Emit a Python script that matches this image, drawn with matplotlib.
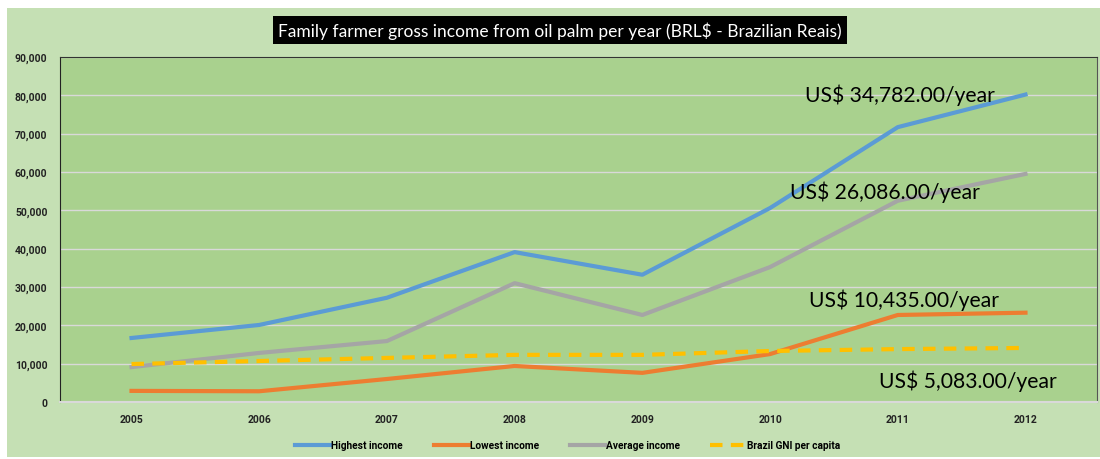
import matplotlib

matplotlib.use("Agg")
import matplotlib.pyplot as plt
from matplotlib.patches import Rectangle

years = ["2005", "2006", "2007", "2008", "2009", "2010", "2011", "2012"]
highest = [16700, 20100, 27200, 39100, 33200, 50600, 71700, 80200]
lowest = [2900, 2800, 6000, 9400, 7600, 12500, 22700, 23300]
average = [9100, 12800, 15900, 31000, 22700, 35200, 52500, 59500]
gni = [9900, 10700, 11500, 12300, 12300, 13300, 13800, 14100]

series_names = ["Highest income", "Lowest income", "Average income", "Brazil GNI per capita"]
notes = ["US$ 34,782.00/year", "US$ 26,086.00/year", "US$ 10,435.00/year", "US$ 5,083.00/year"]
title = "Family farmer gross income from oil palm per year (BRL$ - Brazilian Reais)"

fig = plt.figure(figsize=(11, 4.6), dpi=100)
fig.patch.set_facecolor("white")
# fondo verde del gráfico (estilo Excel)
fig.add_artist(Rectangle((7 / 1100, 2 / 460), 1093 / 1100, 449 / 460,
                         transform=fig.transFigure, facecolor="#C5E0B4",
                         edgecolor="none", zorder=0))

ax = fig.add_axes([60 / 1100, 57 / 460, 1037 / 1100, 345 / 460])
ax.set_facecolor("#A9D18E")
x = list(range(len(years)))

ax.plot(x, highest, color="#5B9BD5", lw=3, label=series_names[0], zorder=3)
ax.plot(x, lowest, color="#ED7D31", lw=3, label=series_names[1], zorder=3)
ax.plot(x, average, color="#A5A5A5", lw=3, label=series_names[2], zorder=3)
ax.plot(x, gni, color="#FFC000", lw=3, ls=(0, (3, 2)), label=series_names[3], zorder=3)

ax.set_xlim(-0.56, 7.56)
ax.set_ylim(0, 90000)
ax.set_yticks(range(0, 90001, 10000))
ax.set_yticklabels([f"{v:,}" for v in range(0, 90001, 10000)])
ax.set_xticks(x)
ax.set_xticklabels(years)
ax.tick_params(length=0, labelsize=7.5)
ax.tick_params(axis="y", pad=9)
ax.tick_params(axis="x", pad=9)
for lab in ax.get_xticklabels() + ax.get_yticklabels():
    lab.set_fontweight("bold")
    lab.set_family("Roboto")
    lab.set_color("#222222")
ax.grid(True, axis="y", color="#D9D9D9", lw=1)
ax.set_axisbelow(True)
ax.spines["left"].set_color("#222222")
ax.spines["top"].set_color("#333333")
ax.spines["right"].set_color("#555555")
ax.spines["bottom"].set_color("#D9D9D9")
ax.spines["bottom"].set_linewidth(1.5)

note_font = dict(family="Lato", fontsize=15.2, color="black", ha="center", va="center", zorder=4)
ax.text(6.02, 80200, notes[0], **note_font)
ax.text(5.9, 55000, notes[1], **note_font)
ax.text(6.05, 26800, notes[2], **note_font)
ax.text(6.55, 5800, notes[3], **note_font)

fig.text(0.509, 0.932, title, ha="center", va="center", color="white",
         fontsize=12.5, family="Lato",
         bbox=dict(facecolor="black", edgecolor="none", boxstyle="square,pad=0.3"))

leg = fig.legend(loc="center", bbox_to_anchor=(0.516, 0.03), ncol=4, frameon=False,
                 prop={"size": 7.3, "weight": "bold", "family": "Roboto"}, handlelength=3.5,
                 columnspacing=3.0, handletextpad=0.1)

fig.savefig("out.png", dpi=100)
